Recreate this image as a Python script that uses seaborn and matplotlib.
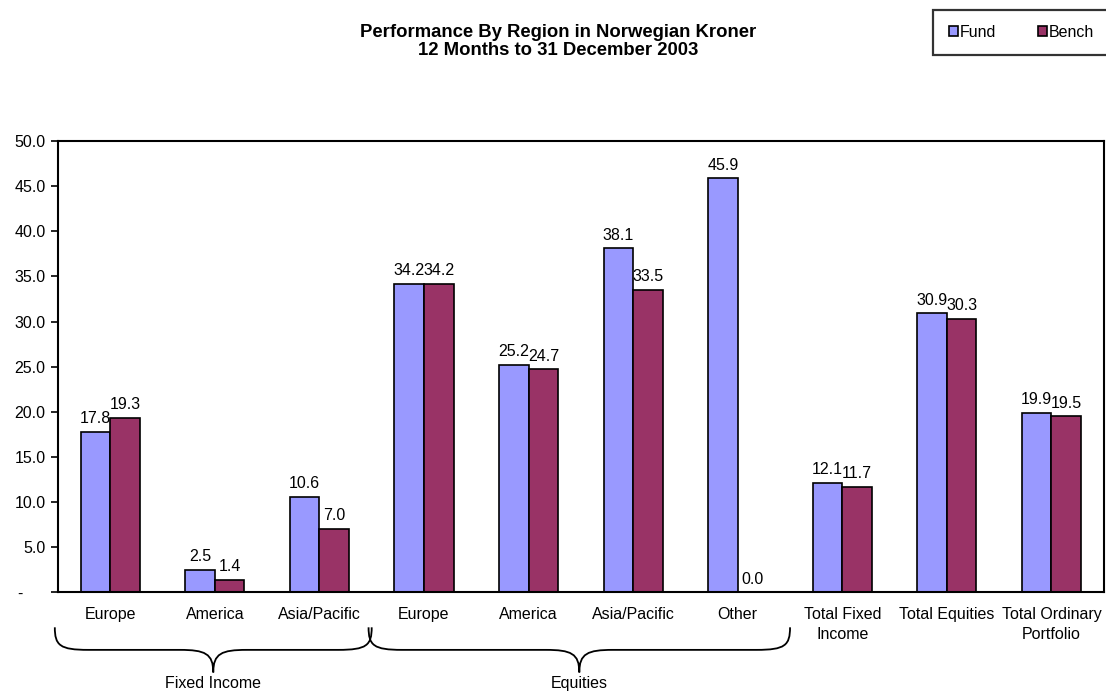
import matplotlib
matplotlib.use("Agg")
import matplotlib.pyplot as plt
from matplotlib.path import Path
from matplotlib.patches import PathPatch, Patch
import matplotlib.transforms as mtransforms
import seaborn as sns
import pandas as pd

# Regions, in display order
region_keys = ["fi_eu", "fi_am", "fi_ap", "eq_eu", "eq_am", "eq_ap", "eq_ot",
               "tot_fi", "tot_eq", "tot_port"]
region_labels = ["Europe", "America", "Asia/Pacific", "Europe", "America",
                 "Asia/Pacific", "Other", "Total Fixed\nIncome", "Total Equities",
                 "Total Ordinary\nPortfolio"]
fund = [17.8, 2.5, 10.6, 34.2, 25.2, 38.1, 45.9, 12.1, 30.9, 19.9]
bench = [19.3, 1.4, 7.0, 34.2, 24.7, 33.5, 0.0, 11.7, 30.3, 19.5]
series_names = ["Fund", "Bench"]
series_colors = ["#9999FF", "#993366"]

# Brace groups: (label, first index, last index)
groups = [("Fixed Income", 0, 2), ("Equities", 3, 6)]

title_lines = "Performance By Region in Norwegian Kroner\n12 Months to 31 December 2003"
y_ticks = [0, 5, 10, 15, 20, 25, 30, 35, 40, 45, 50]

df = pd.DataFrame({
    "region": region_keys * 2,
    "value": fund + bench,
    "series": [series_names[0]] * len(fund) + [series_names[1]] * len(bench),
})

sns.set_theme(style="white")
plt.rcParams["font.family"] = ["Liberation Sans", "DejaVu Sans"]
plt.rcParams["font.size"] = 11.5
plt.rcParams["text.color"] = "black"
plt.rcParams["xtick.color"] = "black"
plt.rcParams["ytick.color"] = "black"
plt.rcParams["xtick.labelcolor"] = "black"
plt.rcParams["ytick.labelcolor"] = "black"

fs = 11.5

fig = plt.figure(figsize=(11.06, 6.95), dpi=100)
ax = fig.add_axes([0.0524, 0.148, 0.9456, 0.649])

sns.barplot(data=df, x="region", y="value", hue="series", order=region_keys,
            hue_order=series_names, palette=series_colors, width=0.565,
            edgecolor="black", linewidth=1.2, saturation=1, ax=ax, legend=False)

for cont in ax.containers:
    ax.bar_label(cont, fmt="%.1f", padding=4, fontsize=fs, color="black")

ax.set_xlim(-0.5, len(region_keys) - 0.5)
ax.set_ylim(0, 50)
ax.set_yticks(y_ticks)
ax.set_yticklabels(["-     " if v == 0 else f"{v:.1f}" for v in y_ticks], fontsize=fs)
ax.set_xticks(range(len(region_keys)))
ax.set_xticklabels(region_labels, fontsize=fs, linespacing=1.35)
ax.tick_params(axis="x", which="major", length=0, pad=11)
ax.set_xticks([i - 0.5 for i in range(len(region_keys) + 1)], minor=True)
ax.tick_params(axis="x", which="minor", length=5, width=1.2, direction="out", color="black")
ax.tick_params(axis="y", length=5, width=1.2, direction="out", color="black", left=True, pad=4)
ax.set_xlabel("")
ax.set_ylabel("")
for s in ax.spines.values():
    s.set_visible(True)
    s.set_color("black")
    s.set_linewidth(1.5)

# Curly braces under the category labels
trans = mtransforms.blended_transform_factory(ax.transData, ax.transAxes)
y_top, y_mid, y_bot = -0.078, -0.128, -0.178
for name, i0, i1 in groups:
    x0, x1 = i0 - 0.53, i1 + 0.5
    xm = (x0 + x1) / 2
    d = 0.32
    verts = [
        (x0, y_top),
        (x0, y_mid + 0.01), (x0 + d * 0.15, y_mid), (x0 + d, y_mid),
        (xm - d, y_mid),
        (xm - d * 0.25, y_mid), (xm, y_mid - 0.008), (xm, y_bot),
        (xm, y_mid - 0.008), (xm + d * 0.25, y_mid), (xm + d, y_mid),
        (x1 - d, y_mid),
        (x1 - d * 0.15, y_mid), (x1, y_mid + 0.01), (x1, y_top),
    ]
    codes = [Path.MOVETO,
             Path.CURVE4, Path.CURVE4, Path.CURVE4,
             Path.LINETO,
             Path.CURVE4, Path.CURVE4, Path.CURVE4,
             Path.CURVE4, Path.CURVE4, Path.CURVE4,
             Path.LINETO,
             Path.CURVE4, Path.CURVE4, Path.CURVE4]
    ax.add_patch(PathPatch(Path(verts, codes), facecolor="none", edgecolor="black",
                           linewidth=1.3, transform=trans, clip_on=False))
    ax.text(xm, y_bot - 0.008, name, transform=trans, ha="center", va="top", fontsize=fs)

fig.text(0.505, 0.965, title_lines, ha="center", va="top", fontsize=13.3,
         fontweight="bold", linespacing=1.05)

handles = [Patch(facecolor=c, edgecolor="black", linewidth=1.2) for c in series_colors]
leg = fig.legend(handles, series_names, loc="upper left", bbox_to_anchor=(0.844, 0.986),
                 ncol=2, frameon=True, fancybox=False, fontsize=fs, handlelength=0.6,
                 handleheight=0.6, handletextpad=0.1, columnspacing=2.6,
                 borderpad=0.95, borderaxespad=0)
leg.get_frame().set_edgecolor("black")
leg.get_frame().set_linewidth(1.6)

fig.savefig("out.png", dpi=100, facecolor="white")
